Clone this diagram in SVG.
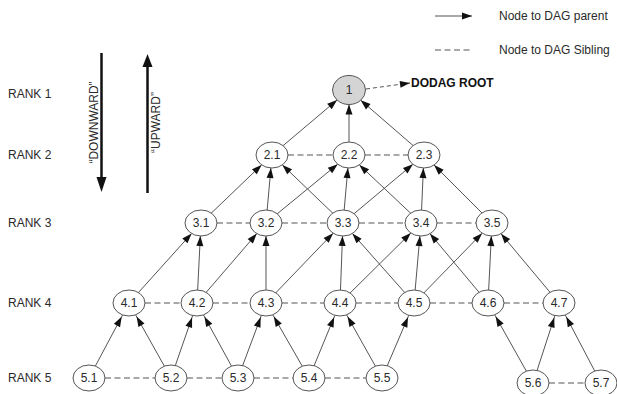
<svg xmlns="http://www.w3.org/2000/svg" width="617" height="394" viewBox="0 0 617 394">
<style>
text{font-family:"Liberation Sans",Arial,sans-serif;font-size:12px;fill:#2a2a2a}
.nt{text-anchor:middle}
.nd{fill:#fff;stroke:#555;stroke-width:1}
.root{fill:#d4d4d4;stroke:#555;stroke-width:1}
.e{stroke:#555;stroke-width:1;fill:none;marker-end:url(#arr)}
.eg{stroke:#555;stroke-width:1;fill:none;marker-end:url(#arrg)}
.s{stroke:#555;stroke-width:1.2;fill:none;stroke-dasharray:6 3.5}
.big{stroke:#111;stroke-width:2.5;fill:none}
</style>
<defs>
<marker id="arr" markerUnits="userSpaceOnUse" markerWidth="10" markerHeight="7" refX="10" refY="3.5" orient="auto" overflow="visible"><path d="M0,0 L10,3.5 L0,7 z" fill="#111"/></marker>
<marker id="arrg" markerUnits="userSpaceOnUse" markerWidth="10" markerHeight="7" refX="12" refY="3.5" orient="auto" overflow="visible"><path d="M0,0 L10,3.5 L0,7 z" fill="#111"/></marker>
</defs>
<rect width="617" height="394" fill="#fff"/>
<g id="legend">
<line x1="435" y1="16" x2="472" y2="16" class="e"/>
<text x="499" y="20">Node to DAG parent</text>
<line x1="435" y1="50" x2="470" y2="50" class="s" stroke-width="1"/>
<text x="499" y="54">Node to DAG Sibling</text>
</g>
<g id="rank-labels">
<text x="8" y="97.5">RANK 1</text>
<text x="8" y="159.3">RANK 2</text>
<text x="8" y="227.3">RANK 3</text>
<text x="8" y="307.3">RANK 4</text>
<text x="8" y="382.3">RANK 5</text>
</g>
<g id="direction">
<line x1="101.5" y1="53" x2="101.5" y2="178" class="big"/>
<path d="M96.5,177 L106.5,177 L101.5,192 z" fill="#111"/>
<text transform="translate(97.5,122.5) rotate(-90)" class="nt">“DOWNWARD”</text>
<line x1="147.5" y1="66" x2="147.5" y2="193" class="big"/>
<path d="M142.5,67 L152.5,67 L147.5,54 z" fill="#111"/>
<text transform="translate(159.5,122.5) rotate(-90)" class="nt">“UPWARD”</text>
</g>
<g id="connectors">
<line x1="366" y1="89" x2="410" y2="83" stroke="#555" stroke-width="1" stroke-dasharray="4 3" marker-end="url(#arr)"/>
<line x1="272" y1="155" x2="337.1" y2="100" class="e"/>
<line x1="349" y1="155" x2="349" y2="104.5" class="e"/>
<line x1="424" y1="155" x2="360.7" y2="100.2" class="e"/>
<line x1="201" y1="223" x2="261.6" y2="164.9" class="e"/>
<line x1="266" y1="223" x2="270.9" y2="168" class="e"/>
<line x1="343" y1="223" x2="282.4" y2="164.9" class="e"/>
<line x1="266" y1="223" x2="337.7" y2="164.2" class="e"/>
<line x1="343" y1="223" x2="347.9" y2="168" class="e"/>
<line x1="421" y1="223" x2="359.4" y2="164.9" class="e"/>
<line x1="343" y1="223" x2="412.9" y2="164.3" class="e"/>
<line x1="421" y1="223" x2="423.4" y2="168" class="e"/>
<line x1="492" y1="223" x2="434.1" y2="165.1" class="e"/>
<line x1="129" y1="303" x2="191.6" y2="233.5" class="e"/>
<line x1="197" y1="303" x2="200.35" y2="236" class="e"/>
<line x1="197" y1="303" x2="256.8" y2="233.6" class="e"/>
<line x1="266" y1="303" x2="266" y2="236" class="e"/>
<line x1="266" y1="303" x2="333.1" y2="233.2" class="e"/>
<line x1="340" y1="303" x2="342.5" y2="236" class="e"/>
<line x1="414" y1="303" x2="352.4" y2="233.5" class="e"/>
<line x1="340" y1="303" x2="410.8" y2="233" class="e"/>
<line x1="414" y1="303" x2="419.9" y2="236" class="e"/>
<line x1="488" y1="303" x2="430" y2="233.7" class="e"/>
<line x1="414" y1="303" x2="482.1" y2="233.2" class="e"/>
<line x1="488" y1="303" x2="491.35" y2="236" class="e"/>
<line x1="559" y1="303" x2="501" y2="233.7" class="e"/>
<line x1="89" y1="378" x2="122.6" y2="314.9" class="eg"/>
<line x1="171" y1="378" x2="135.6" y2="314.8" class="eg"/>
<line x1="171" y1="378" x2="192.7" y2="315.5" class="eg"/>
<line x1="238" y1="378" x2="203.5" y2="314.9" class="eg"/>
<line x1="238" y1="378" x2="261.4" y2="315.4" class="eg"/>
<line x1="309" y1="378" x2="272.8" y2="314.8" class="eg"/>
<line x1="309" y1="378" x2="334.9" y2="315.3" class="eg"/>
<line x1="382" y1="378" x2="346.6" y2="314.8" class="eg"/>
<line x1="382" y1="378" x2="408.8" y2="315.3" class="eg"/>
<line x1="533" y1="383" x2="494.7" y2="314.8" class="eg"/>
<line x1="533" y1="383" x2="554.9" y2="315.6" class="eg"/>
<line x1="601" y1="383" x2="565.3" y2="315" class="eg"/>
<line x1="288" y1="155" x2="333" y2="155" class="s"/>
<line x1="365" y1="155" x2="408" y2="155" class="s"/>
<line x1="217" y1="223" x2="250" y2="223" class="s"/>
<line x1="282" y1="223" x2="327" y2="223" class="s"/>
<line x1="359" y1="223" x2="405" y2="223" class="s"/>
<line x1="437" y1="223" x2="476" y2="223" class="s"/>
<line x1="145" y1="303" x2="181" y2="303" class="s"/>
<line x1="213" y1="303" x2="250" y2="303" class="s"/>
<line x1="282" y1="303" x2="324" y2="303" class="s"/>
<line x1="356" y1="303" x2="398" y2="303" class="s"/>
<line x1="430" y1="303" x2="472" y2="303" class="s"/>
<line x1="504" y1="303" x2="543" y2="303" class="s"/>
<line x1="105" y1="378" x2="155" y2="378" class="s"/>
<line x1="187" y1="378" x2="222" y2="378" class="s"/>
<line x1="254" y1="378" x2="293" y2="378" class="s"/>
<line x1="325" y1="378" x2="366" y2="378" class="s"/>
<line x1="549" y1="383" x2="585" y2="383" class="s"/>
</g>
<g id="n1"><ellipse cx="349" cy="90" rx="16.5" ry="14.5" class="root"/><text x="349" y="94.3" class="nt">1</text></g>
<text x="411" y="87" font-weight="bold" style="fill:#111">DODAG ROOT</text>
<g id="n2-1"><ellipse cx="272" cy="155" rx="16" ry="13" class="nd"/><text x="272" y="159.3" class="nt">2.1</text></g>
<g id="n2-2"><ellipse cx="349" cy="155" rx="16" ry="13" class="nd"/><text x="349" y="159.3" class="nt">2.2</text></g>
<g id="n2-3"><ellipse cx="424" cy="155" rx="16" ry="13" class="nd"/><text x="424" y="159.3" class="nt">2.3</text></g>
<g id="n3-1"><ellipse cx="201" cy="223" rx="16" ry="13" class="nd"/><text x="201" y="227.3" class="nt">3.1</text></g>
<g id="n3-2"><ellipse cx="266" cy="223" rx="16" ry="13" class="nd"/><text x="266" y="227.3" class="nt">3.2</text></g>
<g id="n3-3"><ellipse cx="343" cy="223" rx="16" ry="13" class="nd"/><text x="343" y="227.3" class="nt">3.3</text></g>
<g id="n3-4"><ellipse cx="421" cy="223" rx="16" ry="13" class="nd"/><text x="421" y="227.3" class="nt">3.4</text></g>
<g id="n3-5"><ellipse cx="492" cy="223" rx="16" ry="13" class="nd"/><text x="492" y="227.3" class="nt">3.5</text></g>
<g id="n4-1"><ellipse cx="129" cy="303" rx="16" ry="13" class="nd"/><text x="129" y="307.3" class="nt">4.1</text></g>
<g id="n4-2"><ellipse cx="197" cy="303" rx="16" ry="13" class="nd"/><text x="197" y="307.3" class="nt">4.2</text></g>
<g id="n4-3"><ellipse cx="266" cy="303" rx="16" ry="13" class="nd"/><text x="266" y="307.3" class="nt">4.3</text></g>
<g id="n4-4"><ellipse cx="340" cy="303" rx="16" ry="13" class="nd"/><text x="340" y="307.3" class="nt">4.4</text></g>
<g id="n4-5"><ellipse cx="414" cy="303" rx="16" ry="13" class="nd"/><text x="414" y="307.3" class="nt">4.5</text></g>
<g id="n4-6"><ellipse cx="488" cy="303" rx="16" ry="13" class="nd"/><text x="488" y="307.3" class="nt">4.6</text></g>
<g id="n4-7"><ellipse cx="559" cy="303" rx="16" ry="13" class="nd"/><text x="559" y="307.3" class="nt">4.7</text></g>
<g id="n5-1"><ellipse cx="89" cy="378" rx="16" ry="13" class="nd"/><text x="89" y="382.3" class="nt">5.1</text></g>
<g id="n5-2"><ellipse cx="171" cy="378" rx="16" ry="13" class="nd"/><text x="171" y="382.3" class="nt">5.2</text></g>
<g id="n5-3"><ellipse cx="238" cy="378" rx="16" ry="13" class="nd"/><text x="238" y="382.3" class="nt">5.3</text></g>
<g id="n5-4"><ellipse cx="309" cy="378" rx="16" ry="13" class="nd"/><text x="309" y="382.3" class="nt">5.4</text></g>
<g id="n5-5"><ellipse cx="382" cy="378" rx="16" ry="13" class="nd"/><text x="382" y="382.3" class="nt">5.5</text></g>
<g id="n5-6"><ellipse cx="533" cy="383" rx="16" ry="13" class="nd"/><text x="533" y="387.3" class="nt">5.6</text></g>
<g id="n5-7"><ellipse cx="601" cy="383" rx="16" ry="13" class="nd"/><text x="601" y="387.3" class="nt">5.7</text></g>
</svg>
